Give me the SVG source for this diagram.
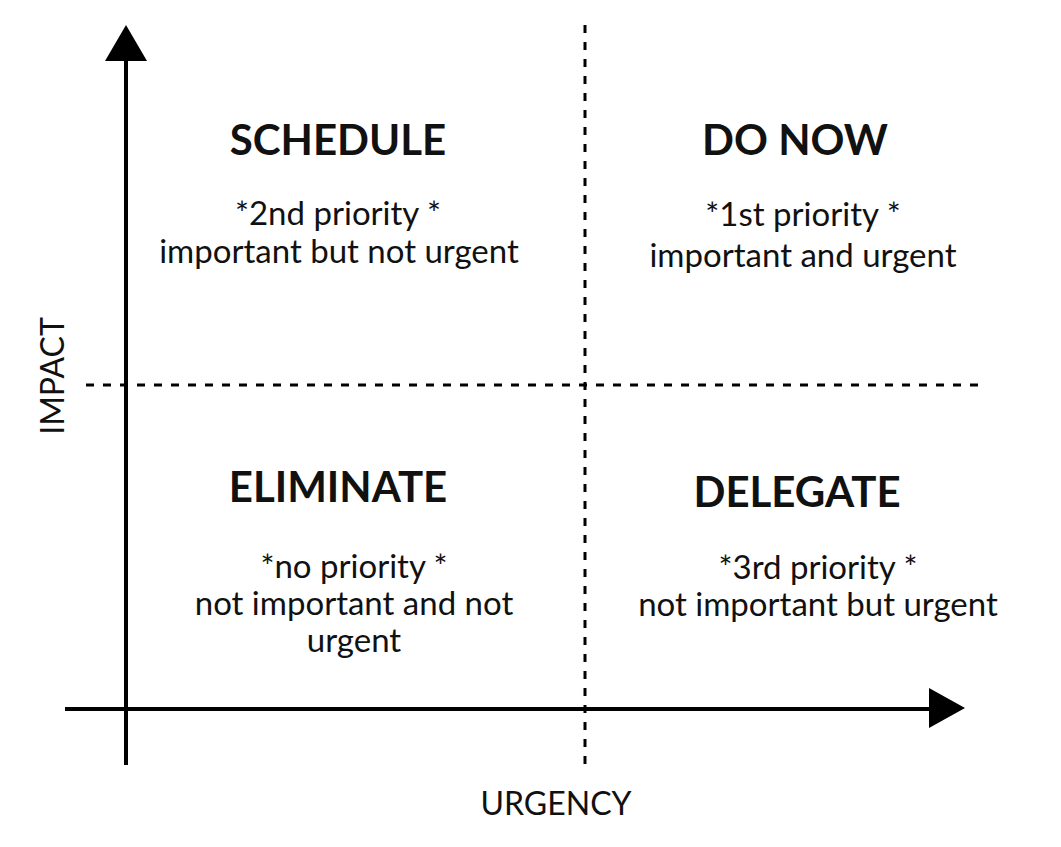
<svg xmlns="http://www.w3.org/2000/svg" width="1061" height="847" viewBox="0 0 1061 847">
<style>
.t{font-family:"Lato","Noto Sans",sans-serif;font-weight:700;font-size:42px;fill:#111;text-anchor:middle}
.b{font-family:"Lato","Noto Sans",sans-serif;font-size:33px;fill:#111;text-anchor:middle}
.a{font-family:"Lato","Noto Sans",sans-serif;font-size:32px;fill:#111;text-anchor:middle}
.ax{stroke:#000;stroke-width:4;fill:none}
.d{stroke:#000;stroke-width:3;fill:none;stroke-dasharray:8 9}
</style>
<rect width="1061" height="847" fill="#fff"/>
<g id="connectors">
<line class="ax" x1="126" y1="58" x2="126" y2="765"/>
<polygon points="126,25 105,61 147,61" fill="#000"/>
<line class="ax" x1="65" y1="709" x2="932" y2="709"/>
<polygon points="965,708 929,688 929,728" fill="#000"/>
<line class="d" x1="585" y1="25" x2="585" y2="765"/>
<line class="d" x1="86" y1="385" x2="986" y2="385"/>
</g>
<g id="schedule">
<text class="t" x="338" y="155">SCHEDULE</text>
<text class="b" x="338" y="225">*2nd priority *</text>
<text class="b" x="339" y="263">important but not urgent</text>
</g>
<g id="donow">
<text class="t" x="795" y="155">DO NOW</text>
<text class="b" x="803" y="226">*1st priority *</text>
<text class="b" x="803" y="267">important and urgent</text>
</g>
<g id="eliminate">
<text class="t" x="338" y="502">ELIMINATE</text>
<text class="b" x="354" y="578">*no priority *</text>
<text class="b" x="354" y="615">not important and not</text>
<text class="b" x="354" y="652">urgent</text>
</g>
<g id="delegate">
<text class="t" x="797" y="507">DELEGATE</text>
<text class="b" x="818" y="579">*3rd priority *</text>
<text class="b" x="818" y="616">not important but urgent</text>
</g>
<g id="labels">
<text class="a" transform="translate(64,376) rotate(-90)">IMPACT</text>
<text class="a" x="556" y="815">URGENCY</text>
</g>
</svg>
